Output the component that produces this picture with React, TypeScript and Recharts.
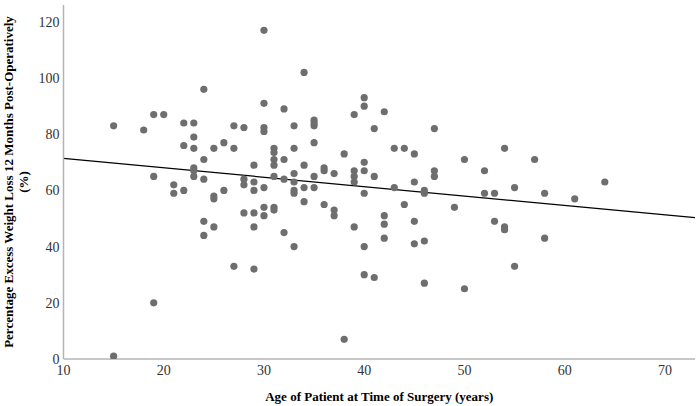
import React from "react";
import { ScatterChart, Scatter, XAxis, YAxis, ReferenceLine } from "recharts";

const ages = [
  15, 15, 18, 19, 19, 19, 20, 21, 21, 22, 22, 22,
  23, 23, 23, 23, 23, 23, 24, 24, 24, 24, 24,
  25, 25, 25, 25, 26, 26, 27, 27, 27, 28, 28, 28, 28,
  29, 29, 29, 29, 29, 29, 30, 30, 30, 30, 30, 30, 30,
  31, 31, 31, 31, 31, 31, 31, 32, 32, 32, 32,
  33, 33, 33, 33, 33, 33, 33, 34, 34, 34, 34,
  35, 35, 35, 35, 35, 35, 36, 36, 36, 37, 37, 37, 38, 38,
  39, 39, 39, 39, 39, 40, 40, 40, 40, 40, 40, 40,
  41, 41, 41, 42, 42, 42, 42, 43, 43, 44, 44,
  45, 45, 45, 45, 46, 46, 46, 46, 47, 47, 47, 49, 50, 50,
  52, 52, 53, 53, 54, 54, 54, 55, 55, 57, 58, 58, 61, 64,
];
const ewl = [
  83, 1, 81.5, 87, 65, 20, 87, 62, 59, 84, 76, 60,
  84, 79, 75, 68, 67, 65, 96, 71, 64, 49, 44,
  75, 58, 57, 47, 77, 60, 83, 75, 33, 82.4, 64, 62, 52,
  69, 63, 60, 52, 47, 32, 117, 91, 82.4, 81, 61, 54, 51,
  75, 73.5, 71, 69, 65, 54, 53, 89, 71, 64, 45,
  83, 75, 66, 63, 60, 59, 40, 102, 69, 61, 56,
  85, 84, 83, 77, 65, 61, 68, 67, 55, 66, 53, 51, 73, 7,
  87, 67, 65, 63, 47, 93, 90, 70, 67, 59, 40, 30,
  82, 65, 29, 88, 51, 48, 43, 75, 61, 75, 55,
  73, 63, 49, 41, 60, 59, 42, 27, 82, 67, 65, 54, 71, 25,
  67, 59, 59, 49, 75, 47, 46, 61, 33, 71, 59, 43, 57, 63,
];

const xTicks = [10, 20, 30, 40, 50, 60, 70];
const yTicks = [0, 20, 40, 60, 80, 100, 120];
const trendAge = [10, 73];
const trendEwl = [71.4, 50.3];

const points = ages.map((a, i) => ({ age: a, ewl: ewl[i] }));

const FONT = "Liberation Serif";

const XTick = (p: any) => (
  <text
    x={p.x}
    y={p.y}
    dy={10}
    textAnchor="middle"
    fontFamily={FONT}
    fontSize={14}
    fill="#333"
  >
    {p.payload.value}
  </text>
);

const YTick = (p: any) => (
  <text
    x={p.x}
    y={p.y}
    dy={5}
    textAnchor="end"
    fontFamily={FONT}
    fontSize={14}
    fill="#333"
  >
    {p.payload.value}
  </text>
);

const YTitle = (props: any) => {
  const vb = props.viewBox || {};
  const cy = (vb.y ?? 5) + (vb.height ?? 354) / 2;
  return (
    <g>
      <text
        x={13}
        y={cy}
        transform={`rotate(-90, 13, ${cy})`}
        textAnchor="middle"
        fontFamily={FONT}
        fontWeight="bold"
        fontSize={13}
        fill="#000"
      >
        Percentage Excess Weight Loss 12 Months Post-Operatively
      </text>
      <text
        x={28}
        y={cy}
        transform={`rotate(-90, 28, ${cy})`}
        textAnchor="middle"
        fontFamily={FONT}
        fontWeight="bold"
        fontSize={13}
        fill="#000"
      >
        (%)
      </text>
    </g>
  );
};

export default function App() {
  return (
    <div style={{ position: "absolute", left: 0, top: 0, background: "#fff" }}>
      <ScatterChart
        width={697}
        height={406}
        margin={{ top: 5, right: 2, bottom: 0, left: 0 }}
        style={{ fontFamily: FONT }}
      >
        <XAxis
          type="number"
          dataKey="age"
          domain={[10, 73]}
          ticks={xTicks}
          allowDataOverflow
          height={47}
          tickLine={false}
          tickSize={4}
          tickMargin={2}
          axisLine={{ stroke: "#b4b4b4", strokeWidth: 1.5 }}
          tick={<XTick />}
          label={{
            value: "Age of Patient at Time of Surgery (years)",
            position: "insideBottom",
            offset: 5,
            style: { fontFamily: FONT, fontWeight: "bold", fontSize: 13, fill: "#000" },
          }}
        />
        <YAxis
          type="number"
          dataKey="ewl"
          domain={[0, 126]}
          ticks={yTicks}
          allowDataOverflow
          width={63.5}
          tickLine={false}
          tickSize={2}
          tickMargin={2}
          axisLine={{ stroke: "#b4b4b4", strokeWidth: 1.5 }}
          tick={<YTick />}
          label={<YTitle />}
        />
        <Scatter
          data={points}
          fill="#6e6e6e"
          isAnimationActive={false}
          shape={(p: any) => <circle cx={p.cx} cy={p.cy} r={3.6} fill="#6e6e6e" />}
        />
        <ReferenceLine
          segment={[
            { x: trendAge[0], y: trendEwl[0] },
            { x: trendAge[1], y: trendEwl[1] },
          ]}
          stroke="#000"
          strokeWidth={1.3}
          ifOverflow="extendDomain"
        />
      </ScatterChart>
    </div>
  );
}
